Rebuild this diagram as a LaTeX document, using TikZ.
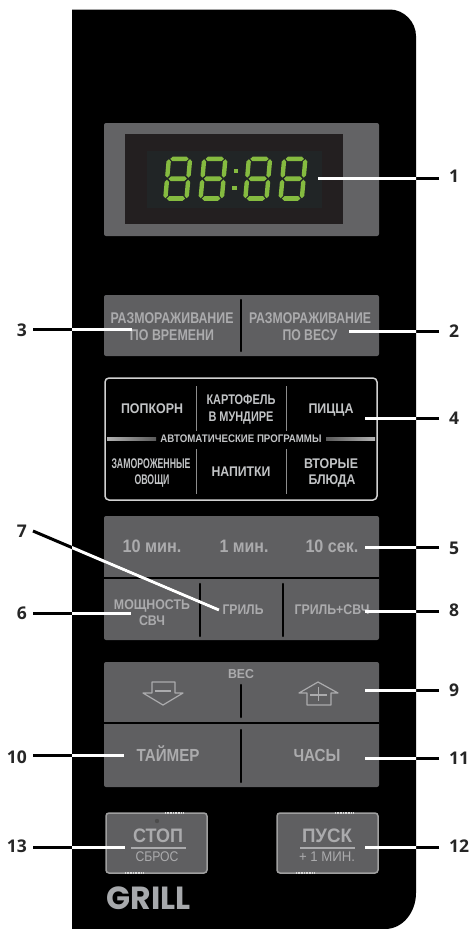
\documentclass[tikz,border=0pt]{standalone}
\usepackage{fontspec}
\usepackage{graphicx}
\setmainfont{Liberation Sans}
\newfontfamily\numfont{Open Sans}
\newfontfamily\brandfont{Poppins}
\definecolor{btn}{HTML}{5F5F61}
\definecolor{dispouter}{HTML}{636365}
\definecolor{dispmid}{HTML}{231F20}
\definecolor{dispin}{HTML}{212526}
\definecolor{seg}{HTML}{85BB40}
\definecolor{btntext}{HTML}{ABABAD}
\definecolor{autotext}{HTML}{C2C4C6}
\definecolor{brand}{HTML}{A7A9AC}
\tikzset{
  btnbox/.style={fill=btn,rounded corners=2pt,draw=none},
  divider/.style={draw=black,line width=2.4pt,line cap=round},
  autodiv/.style={draw=gray!90,line width=1pt},
  icon/.style={draw=btntext,line width=1.2pt,line join=round},
  startstop/.style={fill=btn,draw=gray!75,line width=1.5pt,rounded corners=3pt},
  stripe/.style={draw=white!85!black,line width=1.2pt,dash pattern=on .8pt off .8pt},
  ulbar/.style={draw=btntext,line width=1.2pt},
  ldr/.style={line width=3pt,black},
  numlabel/.style={font=\numfont\bfseries\fontsize{17.5}{17.5}\selectfont,text=black!85,inner ysep=0pt},
  numright/.style={numlabel,anchor=west,inner xsep=10pt},
  numleft/.style={numlabel,anchor=east,inner xsep=6pt}
}
\newcommand\btxt[7][\bfseries]{\node[inner sep=0pt,anchor=base,text=#2,font=#1\fontsize{#6}{#6}\selectfont]
  (#3) at #4 [yshift={-0.358*#6 pt}] {\resizebox{#5pt}{\height}{#7}};}
\newcommand\hseg[3]{\fill[seg] (#1-#2,#3) -- (#1-#2+2.3,#3-2.3) -- (#1+#2-2.3,#3-2.3) -- (#1+#2,#3) -- (#1+#2-2.3,#3+2.3) -- (#1-#2+2.3,#3+2.3) -- cycle;}
\newcommand\vseg[3]{\fill[seg] (#1,#2) -- (#1+2.2,#2+2.3) -- (#1+2.2,#3-2.3) -- (#1,#3) -- (#1-2.2,#3-2.3) -- (#1-2.2,#2+2.3) -- cycle;}
\newcommand\segdigit[2]{\begin{scope}[shift={(#1,#2)},xslant=0.09]
  \hseg{0}{9.2}{-19.8}\hseg{0}{9.2}{0}\hseg{0}{9.2}{19.8}
  \vseg{-10.6}{-19.5}{-1}\vseg{10.6}{-19.5}{-1}\vseg{-10.6}{1}{19.5}\vseg{10.6}{1}{19.5}
\end{scope}}
\newcommand\panelpath{(72,9.5) -- (390,9.5) .. controls (404,9.5) and (416,22) .. (416,36) -- (416,893) .. controls (416,912) and (403,929) .. (385,929) -- (72,929) -- cycle}
\newcommand\leaderpaths{
  \draw[ldr] (n1.west |- e1) -- (e1);
  \draw[ldr] (n2.west |- e2) -- (e2);
  \draw[ldr] (n3.east |- e3) -- (e3);
  \draw[ldr] (n4.west |- e4) -- (e4);
  \draw[ldr] (n5.west |- e5) -- (e5);
  \draw[ldr] (n6.east |- e6) -- (e6);
  \draw[ldr] (n7.east) -- (e7);
  \draw[ldr] (n8.west |- e8) -- (e8);
  \draw[ldr] (n9.west |- e9) -- (e9);
  \draw[ldr] (n10.east |- e10) -- (e10);
  \draw[ldr] (n11.west |- e11) -- (e11);
  \draw[ldr] (n12.west |- e12) -- (e12);
  \draw[ldr] (n13.east |- e13) -- (e13);
}
\begin{document}
\begin{tikzpicture}[x=1pt,y=-1pt]
\useasboundingbox (0,0) rectangle (472,929);
\fill[white] (0,0) rectangle (472,929);
\fill[black] \panelpath;
% display
\fill[dispouter,rounded corners=2pt] (104,123) rectangle (379,236);
\fill[dispmid] (125,134) rectangle (343,224);
\fill[dispin] (147,151) rectangle (322,208);
\segdigit{177.7}{178.7}\segdigit{213}{178.7}\segdigit{257.7}{178.7}\segdigit{293}{178.7}
\fill[seg] (233.6,169) rectangle (238.4,173);
\fill[seg] (232,185.5) rectangle (236.8,189.5);
% defrost
\fill[btnbox] (104,295) rectangle (379,356);
\draw[divider] (241,300) -- (241,351);
\btxt{btntext}{t3a}{(172,318)}{123}{15.5}{РАЗМОРАЖИВАНИЕ}
\btxt{btntext}{t3b}{(172,335)}{84}{15.5}{ПО ВРЕМЕНИ}
\btxt{btntext}{t2a}{(310,318)}{122}{15.5}{РАЗМОРАЖИВАНИЕ}
\btxt{btntext}{t2b}{(310,335)}{55}{15.5}{ПО ВЕСУ}
% auto programmes
\draw[draw=white!82!black,line width=1.5pt,rounded corners=4pt] (105,378) rectangle (377,500);
\draw[autodiv] (196,386) -- (196,431);
\draw[autodiv] (286,386) -- (286,431);
\draw[autodiv] (196,449) -- (196,494);
\draw[autodiv] (286,449) -- (286,494);
\shade[left color=gray!60!white,middle color=white!95!black,right color=gray!70!black] (107,437.3) rectangle (156,440.7);
\shade[left color=gray!70!black,middle color=white!95!black,right color=gray!60!white] (326,437.3) rectangle (375,440.7);
\btxt{autotext}{a1}{(152,408)}{62}{14}{ПОПКОРН}
\btxt{autotext}{a2a}{(241,399)}{69}{14}{КАРТОФЕЛЬ}
\btxt{autotext}{a2b}{(241,416)}{65}{14}{В МУНДИРЕ}
\btxt{autotext}{a3}{(331,408)}{45}{14}{ПИЦЦА}
\btxt{autotext}{a0}{(241,439)}{161}{11}{АВТОМАТИЧЕСКИЕ ПРОГРАММЫ}
\btxt{autotext}{a4a}{(151,463)}{79}{14}{ЗАМОРОЖЕННЫЕ}
\btxt{autotext}{a4b}{(152,479)}{35}{14}{ОВОЩИ}
\btxt{autotext}{a5}{(241,471)}{59}{14}{НАПИТКИ}
\btxt{autotext}{a6a}{(331,463)}{54}{14}{ВТОРЫЕ}
\btxt{autotext}{a6b}{(332,479)}{47}{14}{БЛЮДА}
% time and power
\fill[btnbox] (104,516) rectangle (379,640);
\draw[black,line width=2.6pt] (104,578) -- (379,578);
\draw[divider] (200,584) -- (200,636);
\draw[divider] (283,584) -- (283,636);
\btxt{btntext}{b1}{(152,546)}{59}{18}{10 мин.}
\btxt{btntext}{b2}{(244,546)}{49}{18}{1 мин.}
\btxt{btntext}{b3}{(332,546)}{53}{18}{10 сек.}
\btxt{btntext}{b4a}{(152,604)}{76}{14}{МОЩНОСТЬ}
\btxt{btntext}{b4b}{(152,620)}{26}{14}{СВЧ}
\btxt{btntext}{b5}{(243,609)}{41}{14}{ГРИЛЬ}
\btxt{btntext}{b6}{(332,609)}{75}{14}{ГРИЛЬ+СВЧ}
% weight, timer, clock
\fill[btnbox] (104,662) rectangle (379,787);
\draw[black,line width=2.6pt] (104,723) -- (379,723);
\draw[divider] (241,685) -- (241,717);
\draw[divider] (241,730) -- (241,782);
\btxt{btntext}{c0}{(241,674)}{26}{13}{ВЕС}
\draw[icon] (152,682) -- (175,682) -- (175,693) -- (183,693) -- (163,705) -- (143,693) -- (152,693) -- cycle;
\draw[btntext,line width=2.6pt] (155,691) -- (171,691);
\draw[icon] (318,682) -- (338,693) -- (331,693) -- (331,705) -- (307,705) -- (307,693) -- (299,693) -- cycle;
\draw[btntext,line width=1.3pt] (310,695) -- (327,695);
\draw[btntext,line width=1.3pt] (318.5,687) -- (318.5,701);
\btxt{btntext}{c1}{(168,755)}{63}{17.5}{ТАЙМЕР}
\btxt{btntext}{c2}{(317,755)}{47}{17.5}{ЧАСЫ}
% stop and start
\fill[startstop] (106,813) rectangle (207,873);
\fill[startstop] (277,813) rectangle (378,873);
\draw[stripe] (165,813) -- (183,813);
\draw[stripe] (125,873) -- (144,873);
\draw[stripe] (335,813) -- (354,813);
\draw[stripe] (296,873) -- (315,873);
\fill[gray!60!black] (157,821) circle (2.2);
\btxt{btntext}{s1}{(158,836)}{50}{19.5}{СТОП}
\draw[ulbar] (131,848) -- (186,848);
\btxt[\normalfont]{btntext}{s2}{(157,856)}{43}{14}{СБРОС}
\btxt{btntext}{p1}{(327,836)}{50}{19.5}{ПУСК}
\draw[ulbar] (300,848) -- (355,848);
\btxt[\normalfont]{btntext}{p2}{(327,856)}{56}{14}{+ 1 МИН.}
\node[inner sep=0pt,anchor=base west,text=brand,font=\brandfont\bfseries\fontsize{32}{32}\selectfont] (grill) at (106.5,909) {\resizebox{84pt}{\height}{GRILL}};
% leader ends
\coordinate (e1) at (318,178);
\coordinate (e2) at (349,331);
\coordinate (e3) at (132,329);
\coordinate (e4) at (365,418);
\coordinate (e5) at (365,547);
\coordinate (e6) at (131,613);
\coordinate (e7) at (219,610);
\coordinate (e8) at (365,611);
\coordinate (e9) at (365,690);
\coordinate (e10) at (124,755);
\coordinate (e11) at (365,758);
\coordinate (e12) at (365,847);
\coordinate (e13) at (125,847);
% number labels
\node[numright] (n1) at (439,176) {1};
\node[numright] (n2) at (439,331) {2};
\node[numleft] (n3) at (33,330) {3};
\node[numright] (n4) at (439,418) {4};
\node[numright] (n5) at (439,548) {5};
\node[numleft] (n6) at (33,613) {6};
\node[numleft] (n7) at (33,531) {7};
\node[numright] (n8) at (439,610) {8};
\node[numright] (n9) at (439,690) {9};
\node[numleft] (n10) at (33,757) {10};
\node[numright] (n11) at (439,758) {11};
\node[numright] (n12) at (439,846) {12};
\node[numleft] (n13) at (33,846) {13};
% leaders: black on the white page, white on the black panel
\leaderpaths
\begin{scope}[ldr/.style={line width=3pt,white}]
  \clip \panelpath;
  \leaderpaths
\end{scope}
\end{tikzpicture}
\end{document}
